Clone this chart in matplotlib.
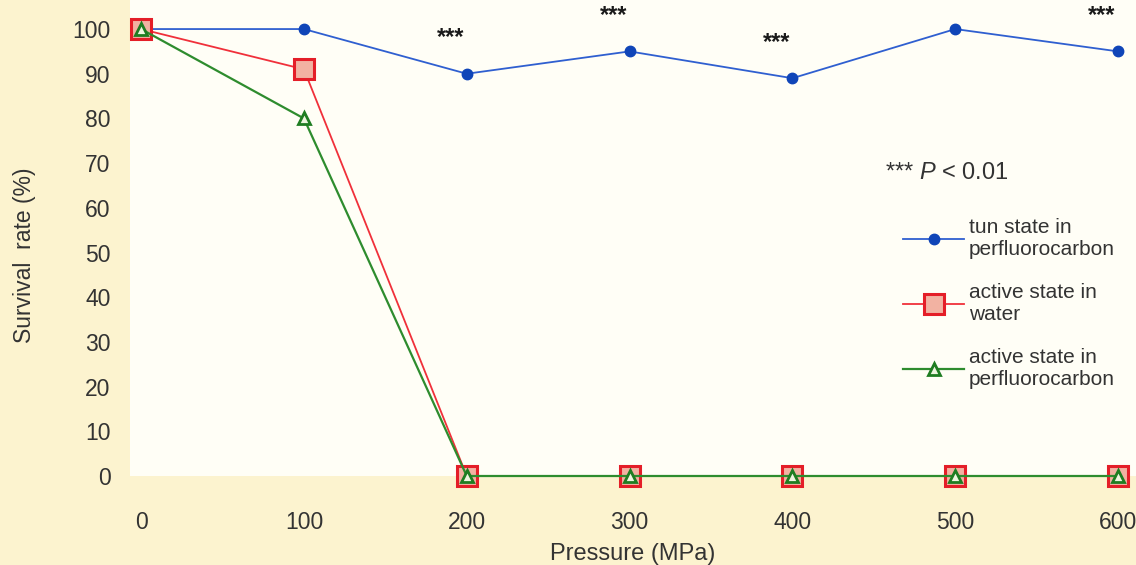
import matplotlib
matplotlib.use("Agg")
from matplotlib import pyplot as plt

plt.rcParams["font.family"] = ["Liberation Sans", "DejaVu Sans"]
plt.rcParams["mathtext.fontset"] = "custom"
plt.rcParams["mathtext.it"] = "Liberation Sans:italic"
plt.rcParams["mathtext.rm"] = "Liberation Sans"

pressure = [0, 100, 200, 300, 400, 500, 600]
tun_pfc = [100, 100, 90, 95, 89, 100, 95]
active_water = [100, 91, 0, 0, 0, 0, 0]
active_pfc = [100, 80, 0, 0, 0, 0, 0]
signif_x = [200, 300, 400, 500, 600]
yticks = [0, 10, 20, 30, 40, 50, 60, 70, 80, 90, 100]

W, H = 1136, 565
fig = plt.figure(figsize=(W / 100, H / 100), dpi=100, facecolor="#fcf3cf")
ax = fig.add_axes([130 / W, 89 / H, 1 - 130 / W, 1 - 89 / H])
ax.set_facecolor("#fffef6")
ax.set_xlim(-6.8, 611)
ax.set_ylim(0, 106.5)
for s in ax.spines.values():
    s.set_visible(False)

ax.plot(pressure, tun_pfc, color="#2f5fd0", lw=1.3, marker="o", ms=7.5,
        mfc="#1045b8", mec="#1045b8", label="tun state in\nperfluorocarbon",
        clip_on=False, zorder=3)
ax.plot(pressure, active_water, color="#f0303a", lw=1.3, marker="s", ms=15,
        mfc="#f2b2a2", mec="#e41e28", mew=2.2, label="active state in\nwater",
        clip_on=False, zorder=4)
ax.plot(pressure, active_pfc, color="#2e8c2e", lw=1.6, marker="^", ms=9,
        mfc="#eef6e0", mec="#1f7d22", mew=2, label="active state in\nperfluorocarbon",
        clip_on=False, zorder=5)

for x in signif_x:
    y = tun_pfc[pressure.index(x)]
    ax.text(x - 10, y + 5.5, "***", ha="center", va="bottom", fontsize=17,
            fontweight="bold", color="#1a1a1a", clip_on=False)

ax.set_xticks(pressure)
ax.set_yticks(yticks)
ax.tick_params(axis="both", length=0, labelsize=16.5, colors="#333333")
ax.tick_params(axis="y", pad=14)
ax.tick_params(axis="x", pad=25)
ax.set_xlabel("Pressure (MPa)", fontsize=17, color="#333333", labelpad=7)
ax.set_ylabel("Survival  rate (%)", fontsize=16.5, color="#333333")
ax.yaxis.set_label_coords(-0.093, 0.464)

fig.text(885 / W, 1 - 173 / H, "*** $P$ < 0.01", fontsize=17, color="#333333",
         va="center", ha="left")

leg = fig.legend(loc="upper left", bbox_to_anchor=(893 / W, 1 - 208 / H),
                 frameon=False, fontsize=15, handlelength=2.9, handletextpad=0.25,
                 labelspacing=1.15, borderpad=0, labelcolor="#333333")

fig.savefig("out.png", dpi=100, facecolor=fig.get_facecolor())
